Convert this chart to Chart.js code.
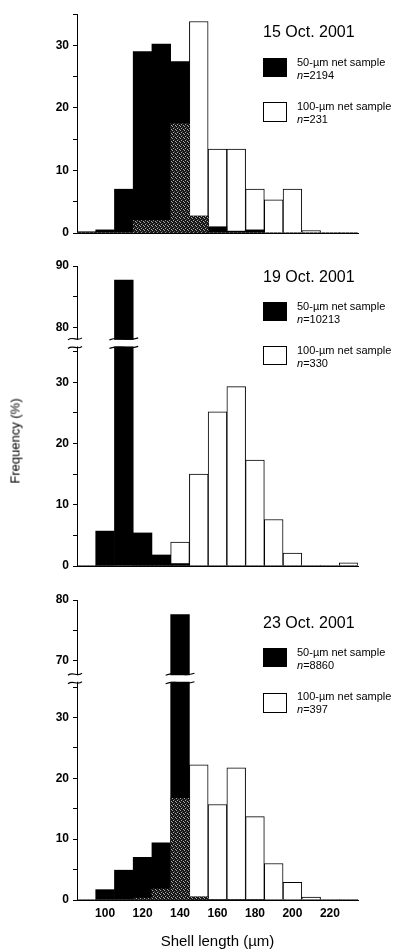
<!DOCTYPE html>
<html>
<head>
<meta charset="utf-8">
<script src="https://cdn.jsdelivr.net/npm/chart.js@4"></script>
<style>
  body { margin: 0; background: #fff; width: 395px; height: 951px; position: relative; overflow: hidden;
         font-family: "Liberation Sans", Arial, sans-serif; color: #000; }
  .panel { position: absolute; left: 0; width: 395px; }
  .date { position: absolute; left: 263px; font-size: 16px; line-height: 16px; white-space: nowrap; }
  .box { position: absolute; left: 263px; width: 24px; height: 19px; box-sizing: border-box; border: 1px solid #000; }
  .box.black { background: #000; }
  .lab { position: absolute; left: 297px; font-size: 11px; line-height: 13px; white-space: nowrap; }
  .ylab { position: absolute; left: 15px; top: 441px; font-size: 13px; font-weight: normal; color: #000;
          white-space: nowrap; transform: translate(-50%, -50%) rotate(-90deg); }
</style>
</head>
<body>

<div class="panel" style="top:0;height:250px"><canvas id="oct15" width="395" height="250"></canvas></div>
<div class="panel" style="top:250px;height:330px"><canvas id="oct19" width="395" height="330"></canvas></div>
<div class="panel" style="top:580px;height:371px"><canvas id="oct23" width="395" height="371"></canvas></div>

<!-- legends -->
<div class="date" style="top:24px">15 Oct. 2001</div>
<div class="box black" style="top:58px"></div>
<div class="lab" style="top:56px">50-µm net sample<br><i>n</i>=2194</div>
<div class="box" style="top:102px;height:20px"></div>
<div class="lab" style="top:100px">100-µm net sample<br><i>n</i>=231</div>

<div class="date" style="top:269px">19 Oct. 2001</div>
<div class="box black" style="top:302px"></div>
<div class="lab" style="top:300px">50-µm net sample<br><i>n</i>=10213</div>
<div class="box" style="top:346px"></div>
<div class="lab" style="top:344px">100-µm net sample<br><i>n</i>=330</div>

<div class="date" style="top:615px">23 Oct. 2001</div>
<div class="box black" style="top:648px"></div>
<div class="lab" style="top:646px">50-µm net sample<br><i>n</i>=8860</div>
<div class="box" style="top:693px;height:20px"></div>
<div class="lab" style="top:690px">100-µm net sample<br><i>n</i>=397</div>

<div class="ylab">Frequency (%)</div>

<script>
// shell length classes (µm), centre of each 10-µm bin
const lengths = [90, 100, 110, 120, 130, 140, 150, 160, 170, 180, 190, 200, 210, 220, 230];
const lengthLabels = [100, 120, 140, 160, 180, 200, 220];

// 15 Oct. 2001
const oct15Net50  = [0.2, 0.5, 7.0, 29.0, 30.2, 27.4, 2.7, 1.0, 0.3, 0.5, 0, 0, 0, 0, 0];
const oct15Net100 = [0, 0, 0, 2.0, 2.0, 17.5, 33.8, 13.4, 13.4, 7.0, 5.3, 7.0, 0.4, 0, 0];
const oct15Both   = [0, 0, 0, 2.0, 2.0, 17.5, 2.7, 0, 0, 0, 0, 0, 0, 0, 0];
const oct15Ticks  = [0, 5, 10, 15, 20, 25, 30, 35];

// 19 Oct. 2001
const oct19Net50  = [0, 5.7, 87.7, 5.4, 1.8, 0.4, 0, 0, 0, 0, 0, 0, 0, 0, 0];
const oct19Net100 = [0, 0, 0, 0, 0, 3.9, 15.0, 25.2, 29.3, 17.3, 7.6, 2.1, 0, 0, 0.5];
const oct19Both   = [0, 0, 0, 0, 0, 0, 0, 0, 0, 0, 0, 0, 0, 0, 0];
const oct19Ticks  = [0, 5, 10, 15, 20, 25, 30, 35, 80, 85, 90];

// 23 Oct. 2001
const oct23Net50  = [0, 1.7, 4.9, 7.0, 9.4, 77.6, 0.5, 0.1, 0.1, 0.1, 0, 0, 0, 0, 0];
const oct23Net100 = [0, 0, 0, 0.3, 1.8, 16.7, 22.2, 15.7, 21.7, 13.7, 6.0, 2.9, 0.5, 0, 0];
const oct23Both   = [0, 0, 0, 0.3, 1.8, 16.7, 0.5, 0, 0, 0, 0, 0, 0, 0, 0];
const oct23Ticks  = [0, 5, 10, 15, 20, 25, 30, 35, 70, 75, 80];

Chart.defaults.font.family = '"Liberation Sans", Arial, sans-serif';
Chart.defaults.color = '#000';

// dark stipple for the overlap of both samples
const pc = document.createElement('canvas');
pc.width = 4; pc.height = 4;
const pctx = pc.getContext('2d');
pctx.fillStyle = '#161616'; pctx.fillRect(0, 0, 4, 4);
pctx.fillStyle = '#a8a8a8';
pctx.fillRect(1, 0, 1, 1); pctx.fillRect(3, 1, 1, 1); pctx.fillRect(0, 2, 1, 1);
pctx.fillStyle = '#5a5a5a';
pctx.fillRect(2, 3, 1, 1);
const stipple = pctx.createPattern(pc, 'repeat');

function makeChart(id, net50, net100, both, ticks, brk, pad, xHeight, showX) {
  // values above the break are shifted down so the axis can be cut
  const lift = v => (brk && v > 50 ? v - brk.offset : v);

  const breakPlugin = {
    id: 'axisBreak',
    afterDraw(chart) {
      if (!brk) return;
      const ctx = chart.ctx, xs = chart.scales.x, ys = chart.scales.y;
      const yLo = ys.getPixelForValue(brk.lo), yHi = ys.getPixelForValue(brk.hi);
      const bar = chart.getDatasetMeta(1).data[net50.findIndex(v => v > 50)];
      ctx.save();
      ctx.fillStyle = '#fff';
      ctx.fillRect(xs.left - 2, yHi + 1, 4, yLo - yHi - 2);
      const spans = [[xs.left - 9, xs.left + 5]];
      if (bar) {
        ctx.fillRect(bar.x - bar.width / 2 - 1, yHi + 1, bar.width + 2, yLo - yHi - 2);
        spans.push([bar.x - bar.width / 2 - 5, bar.x + bar.width / 2 + 5]);
      }
      ctx.strokeStyle = '#000';
      ctx.lineWidth = 1.2;
      spans.forEach(([a, b]) => [yHi, yLo].forEach(y => {
        const w = b - a;
        ctx.beginPath();
        ctx.moveTo(a, y + 1);
        ctx.bezierCurveTo(a + w * 0.35, y - 3, a + w * 0.65, y + 3, b, y - 1);
        ctx.stroke();
      }));
      ctx.restore();
    }
  };

  return new Chart(document.getElementById(id), {
    type: 'bar',
    data: {
      labels: lengths.map(String),
      datasets: [
        { label: '100-µm net sample', data: net100, backgroundColor: '#fff', borderColor: '#000', borderWidth: 1, order: 3 },
        { label: '50-µm net sample', data: net50.map(lift), backgroundColor: '#000', borderWidth: 0, order: 2 },
        { label: 'both', data: both, backgroundColor: stipple, borderWidth: 0, order: 1 },
      ],
    },
    options: {
      responsive: false,
      animation: false,
      layout: { padding: { left: 0, right: 37, top: pad[0], bottom: pad[1] } },
      datasets: { bar: { categoryPercentage: 1, barPercentage: 1, grouped: false } },
      plugins: { legend: { display: false }, tooltip: { enabled: false } },
      scales: {
        x: {
          offset: true,
          grid: { display: false, drawTicks: false },
          border: { display: true, color: '#000', width: 1 },
          ticks: {
            display: showX, autoSkip: false, maxRotation: 0, padding: 6,
            font: { size: 12, weight: 'bold' },
            callback(v) {
              const l = this.getLabelForValue(v);
              return lengthLabels.includes(+l) ? l : '';
            },
          },
          title: { display: showX, text: 'Shell length (µm)', font: { size: 15 }, padding: 0 },
          afterFit: s => { s.height = xHeight; },
        },
        y: {
          min: 0,
          max: lift(ticks[ticks.length - 1]),
          afterBuildTicks: s => { s.ticks = ticks.map(v => ({ value: lift(v) })); },
          afterFit: s => { s.width = 77; },
          grid: { drawOnChartArea: false, drawTicks: true, tickLength: 4, color: '#000' },
          border: { color: '#000', width: 1 },
          ticks: {
            padding: 4,
            font: { size: 12, weight: 'bold' },
            callback: value => {
              const v = Math.round(brk && value > brk.hi ? value + brk.offset : value);
              return v % 10 === 0 ? String(v) : '';
            },
          },
        },
      },
    },
    plugins: [breakPlugin],
  });
}

makeChart('oct15', oct15Net50, oct15Net100, oct15Both, oct15Ticks, null, [14, 17], 0, false);
makeChart('oct19', oct19Net50, oct19Net100, oct19Both, oct19Ticks, { offset: 41, lo: 35.7, hi: 37.1 }, [16, 14], 0, false);
makeChart('oct23', oct23Net50, oct23Net100, oct23Both, oct23Ticks, { offset: 30.7, lo: 35.7, hi: 37.1 }, [20, 0], 51, true);
</script>
</body>
</html>
